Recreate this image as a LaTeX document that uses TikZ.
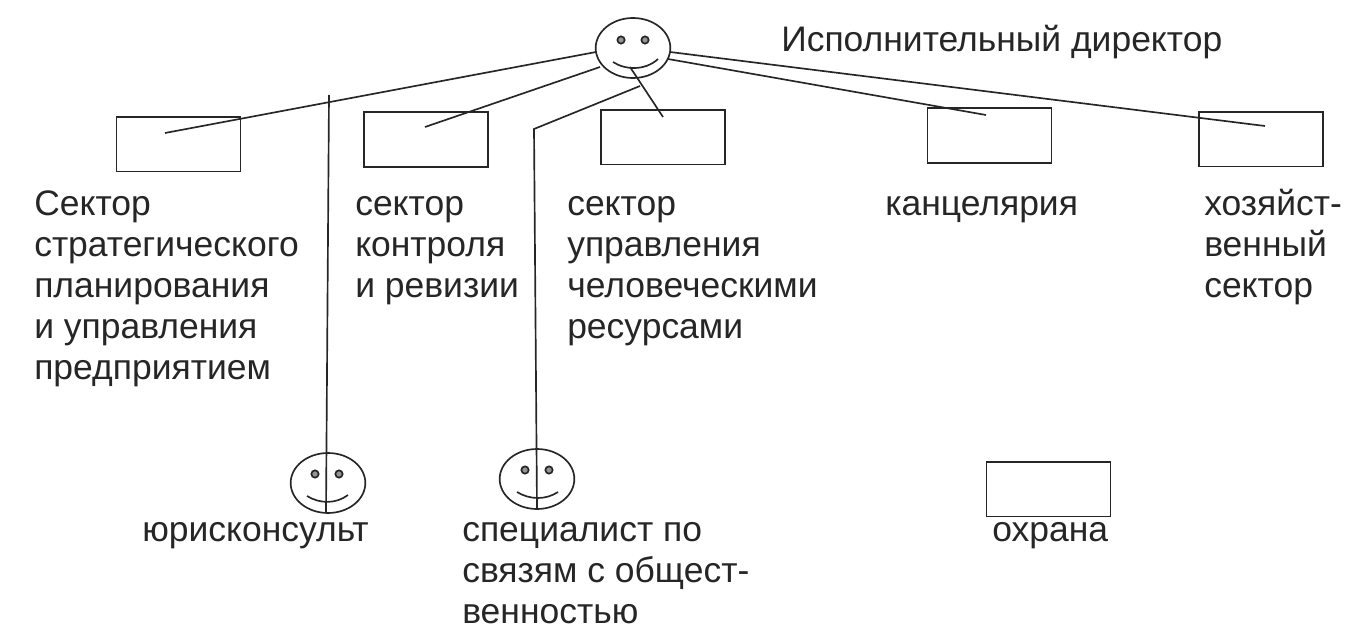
\documentclass[tikz,border=0pt]{standalone}
\usepackage{fontspec}
\setmainfont{Liberation Sans}
\usetikzlibrary{shapes.geometric}
\definecolor{ink}{gray}{0.15}
\newcommand{\topline}{\rule{0pt}{21.5pt}}
\tikzset{
  boxn/.style={draw=ink,line width=1.25pt,rectangle,inner sep=0pt,minimum width=93pt,minimum height=41pt},
  lbl/.style={inner sep=0pt,anchor=north west,align=left,text=ink,font=\fontsize{26.6pt}{30.75pt}\selectfont},
  ln/.style={draw=ink,line width=1.25pt},
  face/.style={draw=ink,line width=1.25pt,ellipse,inner sep=0pt,minimum width=56pt,minimum height=45pt},
  eye/.style={draw=ink,line width=1.25pt,fill=ink!50,circle,inner sep=0pt,minimum size=5.5pt},
  smile/.style={draw=ink,line width=1.25pt}
}
\begin{document}
\begin{tikzpicture}[x=0.75pt,y=-0.75pt]
\useasboundingbox (0,0) rectangle (1366,642);
% faces
\node[face] (dir) at (633,48) {};
\node[eye] (dirL) at (621,40) {};
\node[eye] (dirR) at (645,40) {};
\draw[smile] (613,62) .. controls (625,70) and (645,71) .. (658,59);
\node[face] (jur) at (328,483) {};
\node[eye] (jurL) at (315,474) {};
\node[eye] (jurR) at (339,474) {};
\draw[smile] (307,496) .. controls (320,504) and (336,504) .. (348,495);
\node[face] (spc) at (537,479) {};
\node[eye] (spcL) at (525,470) {};
\node[eye] (spcR) at (549,470) {};
\draw[smile] (517,492) .. controls (530,500) and (546,500) .. (558,492);
% boxes
\node[boxn] (b1) at (178.5,144) {};
\node[boxn] (b2) at (426,139.5) {};
\node[boxn] (b3) at (663,137) {};
\node[boxn] (b4) at (989.5,135.5) {};
\node[boxn] (b5) at (1261,139) {};
\node[boxn] (b6) at (1048.5,489) {};
% free ends
\coordinate (e1) at (165,133);
\coordinate (e2) at (425,127);
\coordinate (e3) at (663,117);
\coordinate (e4) at (986,115);
\coordinate (e5) at (1265,126);
\coordinate (d1) at (596,52);
\coordinate (d2) at (600,67);
\coordinate (d3) at (640,86);
\coordinate (d4) at (630,67);
\coordinate (d5) at (668,59);
\coordinate (d6) at (670,52);
\coordinate (jtop) at (329,95);
\coordinate (jbot) at (326,513);
\coordinate (knee) at (534,129);
\coordinate (sbot) at (537,509);
% connectors
\draw[ln] (d1) -- (e1);
\draw[ln] (d2) -- (e2);
\draw[ln] (d3) -- (knee) -- (sbot);
\draw[ln] (d4) -- (e3);
\draw[ln] (d5) -- (e4);
\draw[ln] (d6) -- (e5);
\draw[ln] (jtop) -- (jbot);
% labels
\node[lbl] (t0) at (781,23) {\topline Исполнительный директор};
\node[lbl] (t1) at (34,187) {\topline Сектор\\стратегического\\планирования\\и управления\\предприятием};
\node[lbl] (t2) at (355,187) {\topline сектор\\контроля\\и ревизии};
\node[lbl] (t3) at (567,187) {\topline сектор\\управления\\человеческими\\ресурсами};
\node[lbl] (t4) at (885,187) {\topline канцелярия};
\node[lbl] (t5) at (1204,187) {\topline хозяйст-\\венный\\сектор};
\node[lbl] (t6) at (142,513) {\topline юрисконсульт};
\node[lbl] (t7) at (462,513) {\topline специалист по\\связям с общест-\\венностью};
\node[lbl] (t8) at (992,513) {\topline охрана};
\end{tikzpicture}
\end{document}
